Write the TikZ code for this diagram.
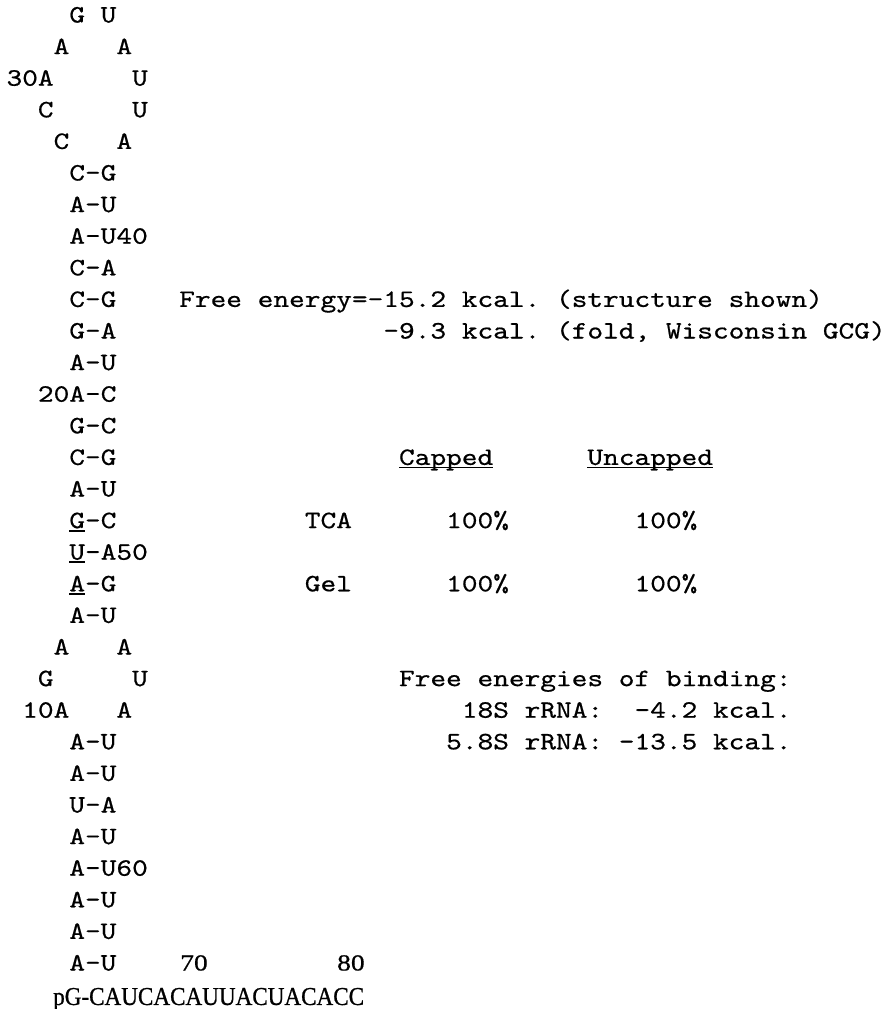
\documentclass[tikz,border=0pt]{standalone}
\usepackage{fontspec}
\usepackage{tikz}
\newfontfamily\typefont{lmmono10-regular.otf}[FakeStretch=1.196, FakeBold=0.6]
\newfontfamily\seqfont[FakeStretch=0.9, FakeBold=0.8]{Liberation Serif}
\newfontfamily\numfont[FakeStretch=1.2, FakeBold=0.6]{Liberation Serif}
\newcommand\undl[1]{\leavevmode\setbox0=\hbox{#1}\rlap{\rule[-3.4pt]{\wd0}{1.8pt}}\box0}
\frenchspacing

\begin{document}
\begin{tikzpicture}[x=15.7pt, y=-31.6pt,
  typed/.style={anchor=base west, inner sep=0pt, font=\typefont\fontsize{25}{31}\selectfont},
  printed/.style={anchor=base west, inner sep=0pt, font=\seqfont\fontsize{25.7}{30}\selectfont},
  posnum/.style={inner sep=0pt, font=\numfont\fontsize{23}{28}\selectfont}
]
  \useasboundingbox (-0.4045,0.288) rectangle ++(891pt,-1009pt);

  % top loop
  \node[typed] (l1) at (4,1) {G U};
  \node[typed] (l2a) at (3,2) {A};
  \node[typed] (l2b) at (7,2) {A};
  \node[typed] (l3a) at (0,3) {30A};
  \node[typed] (l3b) at (8,3) {U};
  \node[typed] (l4a) at (2,4) {C};
  \node[typed] (l4b) at (8,4) {U};
  \node[typed] (l5a) at (3,5) {C};
  \node[typed] (l5b) at (7,5) {A};

  % upper stem
  \node[typed] (s6) at (4,6) {C-G};
  \node[typed] (s7) at (4,7) {A-U};
  \node[typed] (s8) at (4,8) {A-U40};
  \node[typed] (s9) at (4,9) {C-A};
  \node[typed] (s10) at (4,10) {C-G};
  \node[typed] (s11) at (4,11) {G-A};
  \node[typed] (s12) at (4,12) {A-U};
  \node[typed] (s13) at (2,13) {20A-C};
  \node[typed] (s14) at (4,14) {G-C};
  \node[typed] (s15) at (4,15) {C-G};
  \node[typed] (s16) at (4,16) {A-U};
  \node[typed] (s17) at (4,17) {\undl{G}-C};
  \node[typed] (s18) at (4,18) {\undl{U}-A50};
  \node[typed] (s19) at (4,19) {\undl{A}-G};
  \node[typed] (s20) at (4,20) {A-U};

  % internal loop
  \node[typed] (i21a) at (3,21) {A};
  \node[typed] (i21b) at (7,21) {A};
  \node[typed] (i22a) at (2,22) {G};
  \node[typed] (i22b) at (8,22) {U};
  \node[typed] (i23a) at (1,23) {10A};
  \node[typed] (i23b) at (7,23) {A};

  % lower stem
  \node[typed] (s24) at (4,24) {A-U};
  \node[typed] (s25) at (4,25) {A-U};
  \node[typed] (s26) at (4,26) {U-A};
  \node[typed] (s27) at (4,27) {A-U};
  \node[typed] (s28) at (4,28) {A-U60};
  \node[typed] (s29) at (4,29) {A-U};
  \node[typed] (s30) at (4,30) {A-U};
  \node[typed] (s31) at (4,31) {A-U};
  \node[posnum, anchor=base west] (n70) at (11.06,31) {70};
  \node[posnum, anchor=base east] (n80) at (22.84,31) {80};
  \node[printed] (tail) at (2.97,32.09) {pG-CAUCACAUUACUACACC};

  % free energy of the fold
  \node[typed] (fe1) at (11,10) {Free energy=-15.2 kcal. (structure shown)};
  \node[typed] (fe2) at (24,11) {-9.3 kcal. (fold, Wisconsin GCG)};

  % capping table
  \node[typed] (hcap) at (25,15) {\undl{Capped}};
  \node[typed] (hunc) at (37,15) {\undl{Uncapped}};
  \node[typed] (tca) at (19,17) {TCA};
  \node[typed] (tcacap) at (28,17) {100\%};
  \node[typed] (tcaunc) at (40,17) {100\%};
  \node[typed] (gel) at (19,19) {Gel};
  \node[typed] (gelcap) at (28,19) {100\%};
  \node[typed] (gelunc) at (40,19) {100\%};

  % binding energies
  \node[typed] (bind) at (25,22) {Free energies of binding:};
  \node[typed] (b18) at (29,23) {18S rRNA:\ \ -4.2 kcal.};
  \node[typed] (b58) at (28,24) {5.8S rRNA: -13.5 kcal.};
\end{tikzpicture}
\end{document}
